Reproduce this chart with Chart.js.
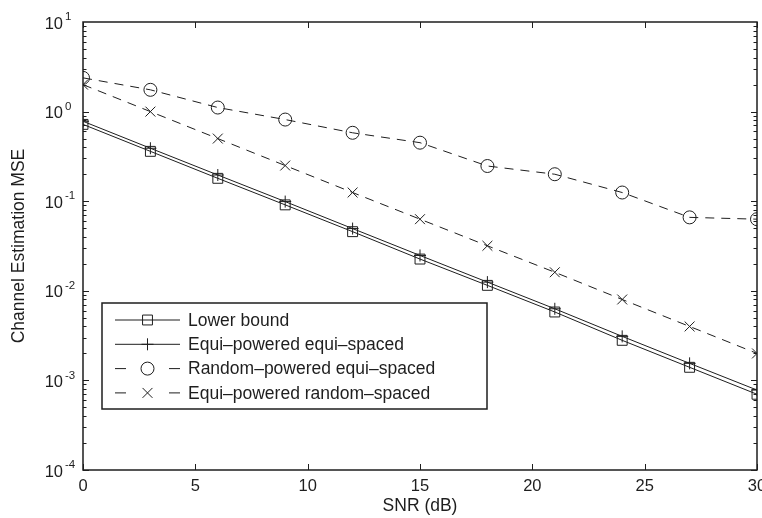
<!DOCTYPE html>
<html>
<head>
<meta charset="utf-8">
<script src="https://cdn.jsdelivr.net/npm/chart.js@4.4.1/dist/chart.umd.min.js"></script>
<style>
  html, body { margin: 0; padding: 0; background: #fff; }
  #wrap { width: 762px; height: 518px; }
</style>
</head>
<body>
<div id="wrap"><canvas id="mseChart" width="762" height="518"></canvas></div>
<script>
// SNR axis and MSE curves
const snr = [0, 3, 6, 9, 12, 15, 18, 21, 24, 27, 30];
const lowerBound = [0.72, 0.36, 0.18, 0.091, 0.0457, 0.0226, 0.0115, 0.0058, 0.0028, 0.0014, 0.0007];
const equiEqui = [0.78, 0.39, 0.196, 0.099, 0.0495, 0.0248, 0.0125, 0.0063, 0.0031, 0.00155, 0.00078];
const randEqui = [2.38, 1.75, 1.11, 0.815, 0.58, 0.45, 0.247, 0.2, 0.125, 0.066, 0.063];
const equiRand = [2.0, 1.0, 0.5, 0.25, 0.125, 0.063, 0.0318, 0.0161, 0.008, 0.004, 0.002];

const xTicks = [0, 5, 10, 15, 20, 25, 30];
const yExps = [-4, -3, -2, -1, 0, 1];
const labels = ['Lower bound', 'Equi\u2013powered equi\u2013spaced', 'Random\u2013powered equi\u2013spaced', 'Equi\u2013powered random\u2013spaced'];

const ink = '#1e1e1e';
const font = 'Liberation Sans, Arial, Helvetica, sans-serif';
const dash = [9, 7];

function series(vals) {
  return snr.map((x, i) => ({ x, y: vals[i] }));
}

const datasets = [
  { label: labels[0], data: series(lowerBound), pointStyle: 'rect', pointRadius: 7, borderDash: [] },
  { label: labels[1], data: series(equiEqui), pointStyle: 'cross', pointRadius: 6, borderDash: [] },
  { label: labels[2], data: series(randEqui), pointStyle: 'circle', pointRadius: 6.5, borderDash: dash },
  { label: labels[3], data: series(equiRand), pointStyle: 'crossRot', pointRadius: 7, borderDash: dash }
].map(d => Object.assign(d, {
  borderColor: ink,
  borderWidth: 1,
  pointBorderColor: ink,
  pointBackgroundColor: 'rgba(0,0,0,0)',
  pointBorderWidth: 1,
  pointHoverRadius: d.pointRadius,
  tension: 0
}));

// axes box, inward ticks, tick labels, axis titles and legend (matlab look)
const matlabFrame = {
  id: 'matlabFrame',
  afterDraw(chart) {
    const { ctx, chartArea: a, scales } = chart;
    const xs = scales.x, ys = scales.y;
    ctx.save();
    ctx.strokeStyle = ink;
    ctx.lineWidth = 1.5;
    ctx.strokeRect(a.left, a.top, a.right - a.left, a.bottom - a.top);

    ctx.lineWidth = 1;
    ctx.beginPath();
    xTicks.forEach(t => {
      const px = Math.round(xs.getPixelForValue(t)) + 0.5;
      ctx.moveTo(px, a.bottom); ctx.lineTo(px, a.bottom - 6);
      ctx.moveTo(px, a.top); ctx.lineTo(px, a.top + 6);
    });
    yExps.forEach((e, k) => {
      if (k === yExps.length - 1) return;
      for (let m = 1; m <= 9; m++) {
        const py = Math.round(ys.getPixelForValue(m * Math.pow(10, e))) + 0.5;
        const len = m === 1 ? 6 : 3.5;
        ctx.moveTo(a.left, py); ctx.lineTo(a.left + len, py);
        ctx.moveTo(a.right, py); ctx.lineTo(a.right - len, py);
      }
    });
    ctx.stroke();

    ctx.fillStyle = ink;
    ctx.font = '16.5px ' + font;
    ctx.textAlign = 'center';
    ctx.textBaseline = 'middle';
    xTicks.forEach(t => ctx.fillText(String(t), xs.getPixelForValue(t), a.bottom + 16));

    yExps.forEach(e => {
      const py = ys.getPixelForValue(Math.pow(10, e));
      ctx.font = '16.5px ' + font;
      ctx.textAlign = 'right';
      ctx.fillText('10', a.left - 20, py + 2);
      ctx.font = '11.5px ' + font;
      ctx.textAlign = 'left';
      ctx.fillText(String(e), a.left - 18, py - 5);
    });

    ctx.font = '17.5px ' + font;
    ctx.textAlign = 'center';
    ctx.fillText('SNR (dB)', (a.left + a.right) / 2, a.bottom + 36);
    ctx.save();
    ctx.translate(19, (a.top + a.bottom) / 2);
    ctx.rotate(-Math.PI / 2);
    ctx.fillText('Channel Estimation MSE', 0, 0);
    ctx.restore();

    // legend
    const lx = 102, ly = 303, lw = 385, lh = 106;
    ctx.fillStyle = '#fff';
    ctx.fillRect(lx, ly, lw, lh);
    ctx.lineWidth = 1.5;
    ctx.strokeStyle = ink;
    ctx.strokeRect(lx, ly, lw, lh);
    chart.data.datasets.forEach((d, i) => {
      const ry = 320 + i * 24.3;
      ctx.lineWidth = 1;
      ctx.beginPath();
      if (d.borderDash.length) {
        ctx.moveTo(115, ry); ctx.lineTo(126, ry);
        ctx.moveTo(169, ry); ctx.lineTo(180, ry);
      } else {
        ctx.moveTo(115, ry); ctx.lineTo(180, ry);
      }
      ctx.stroke();
      ctx.fillStyle = 'rgba(0,0,0,0)';
      Chart.helpers.drawPoint(ctx, {
        pointStyle: d.pointStyle, radius: d.pointRadius, rotation: 0, borderWidth: 1
      }, 147.5, ry);
      ctx.fillStyle = ink;
      ctx.font = '17.5px ' + font;
      ctx.textAlign = 'left';
      ctx.fillText(d.label, 188, ry + 1);
    });
    ctx.restore();
  }
};

new Chart(document.getElementById('mseChart').getContext('2d'), {
  type: 'line',
  data: { datasets },
  options: {
    responsive: false,
    animation: false,
    layout: { autoPadding: false, padding: { left: 75, top: 22, right: 5, bottom: 40 } },
    scales: {
      x: {
        type: 'linear', min: 0, max: 30,
        grid: { display: false }, border: { display: false },
        ticks: { display: false }
      },
      y: {
        type: 'logarithmic', min: 1e-4, max: 10,
        grid: { display: false }, border: { display: false },
        ticks: { display: false }
      }
    },
    plugins: { legend: { display: false }, tooltip: { enabled: false } }
  },
  plugins: [matlabFrame]
});
</script>
</body>
</html>
